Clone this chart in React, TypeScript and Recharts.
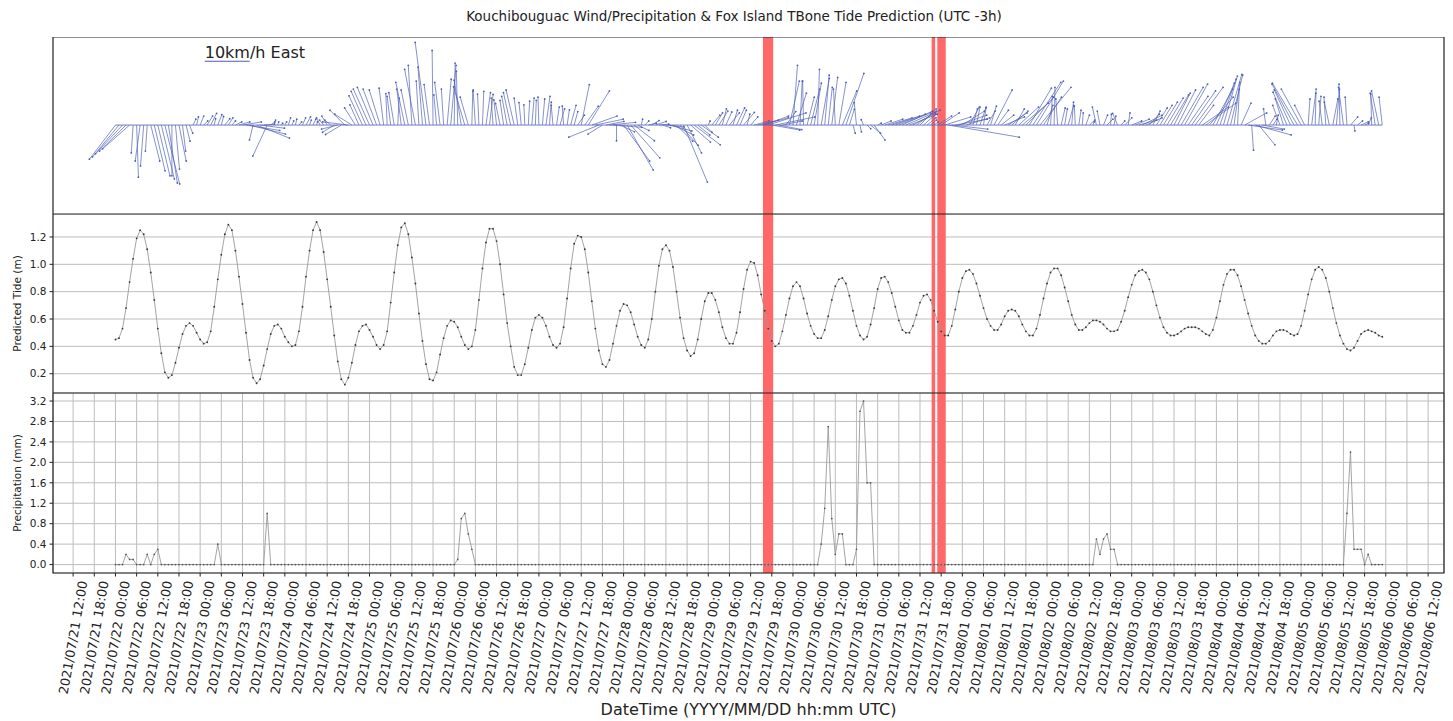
import React from 'react';
import {
  ComposedChart,
  Line,
  Scatter,
  XAxis,
  YAxis,
  CartesianGrid,
  ReferenceArea,
} from 'recharts';

// hour 0 of the time axis is 2021/07/21 12:00 UTC
const START_UTC = Date.UTC(2021, 6, 21, 12);
// first hourly sample is 2021/07/22 00:00 UTC
const FIRST_HOUR = 12;

// Fox Island predicted tide (m), hourly, one row per day (07/22 .. 08/05)
const tideM = [
  0.45, 0.46, 0.53, 0.68, 0.87, 1.04, 1.19, 1.25, 1.22, 1.11, 0.94, 0.74, 0.53, 0.35, 0.21, 0.17, 0.19, 0.28, 0.39, 0.49, 0.55, 0.57, 0.55, 0.5,
  0.45, 0.42, 0.43, 0.51, 0.69, 0.89, 1.07, 1.22, 1.29, 1.25, 1.1, 0.91, 0.71, 0.5, 0.3, 0.17, 0.13, 0.16, 0.26, 0.38, 0.49, 0.55, 0.56, 0.53,
  0.47, 0.43, 0.4, 0.41, 0.51, 0.69, 0.91, 1.1, 1.25, 1.31, 1.25, 1.09, 0.89, 0.69, 0.48, 0.29, 0.16, 0.12, 0.17, 0.28, 0.41, 0.51, 0.55, 0.56,
  0.52, 0.47, 0.41, 0.38, 0.41, 0.51, 0.72, 0.94, 1.14, 1.27, 1.3, 1.22, 1.05, 0.86, 0.64, 0.44, 0.27, 0.16, 0.15, 0.21, 0.34, 0.46, 0.55, 0.59,
  0.58, 0.54, 0.47, 0.41, 0.38, 0.4, 0.52, 0.74, 0.97, 1.16, 1.26, 1.26, 1.17, 1.0, 0.78, 0.57, 0.4, 0.25, 0.19, 0.19, 0.27, 0.39, 0.52, 0.61,
  0.63, 0.61, 0.55, 0.47, 0.41, 0.39, 0.42, 0.54, 0.75, 0.97, 1.15, 1.21, 1.2, 1.11, 0.94, 0.73, 0.53, 0.37, 0.27, 0.25, 0.3, 0.42, 0.55, 0.66,
  0.71, 0.7, 0.65, 0.56, 0.47, 0.41, 0.39, 0.45, 0.6, 0.8, 0.99, 1.11, 1.14, 1.1, 0.98, 0.8, 0.61, 0.46, 0.37, 0.33, 0.35, 0.45, 0.6, 0.73,
  0.79, 0.79, 0.74, 0.65, 0.54, 0.46, 0.42, 0.42, 0.5, 0.65, 0.82, 0.96, 1.02, 1.01, 0.92, 0.78, 0.66, 0.53, 0.44, 0.4, 0.42, 0.51, 0.63, 0.75,
  0.84, 0.87, 0.84, 0.75, 0.64, 0.55, 0.49, 0.46, 0.46, 0.52, 0.62, 0.74, 0.84, 0.89, 0.9, 0.86, 0.77, 0.66, 0.55, 0.48, 0.45, 0.47, 0.56, 0.68,
  0.82, 0.9, 0.91, 0.87, 0.79, 0.69, 0.59, 0.52, 0.5, 0.5, 0.55, 0.63, 0.72, 0.77, 0.78, 0.74, 0.66, 0.58, 0.51, 0.48, 0.48, 0.55, 0.67, 0.8,
  0.9, 0.95, 0.96, 0.93, 0.86, 0.77, 0.68, 0.6, 0.55, 0.52, 0.52, 0.56, 0.62, 0.66, 0.67, 0.66, 0.62, 0.56, 0.51, 0.48, 0.48, 0.53, 0.63, 0.75,
  0.86, 0.94, 0.97, 0.97, 0.92, 0.83, 0.73, 0.63, 0.56, 0.52, 0.52, 0.54, 0.57, 0.59, 0.59, 0.58, 0.56, 0.53, 0.51, 0.51, 0.52, 0.58, 0.66, 0.76,
  0.85, 0.92, 0.95, 0.96, 0.94, 0.89, 0.8, 0.7, 0.61, 0.54, 0.5, 0.48, 0.48, 0.49, 0.51, 0.53, 0.54, 0.54, 0.54, 0.53, 0.51, 0.49, 0.48, 0.52,
  0.61, 0.73, 0.85, 0.93, 0.96, 0.96, 0.92, 0.84, 0.74, 0.64, 0.55, 0.48, 0.44, 0.42, 0.42, 0.44, 0.48, 0.51, 0.52, 0.52, 0.51, 0.49, 0.48, 0.49,
  0.55, 0.66, 0.78, 0.89, 0.96, 0.98, 0.96, 0.9, 0.8, 0.68, 0.57, 0.48, 0.42, 0.38, 0.37, 0.39, 0.44, 0.49, 0.51, 0.52, 0.51, 0.5, 0.48, 0.47,
];

// Kouchibouguac hourly precipitation (mm)
const precipMm = [
  0, 0, 0, 0.2, 0.1, 0.1, 0, 0, 0, 0.2, 0, 0.2, 0.3, 0, 0, 0, 0, 0, 0, 0, 0, 0, 0, 0,
  0, 0, 0, 0, 0, 0.4, 0, 0, 0, 0, 0, 0, 0, 0, 0, 0, 0, 0, 0, 1.0, 0, 0, 0, 0,
  0, 0, 0, 0, 0, 0, 0, 0, 0, 0, 0, 0, 0, 0, 0, 0, 0, 0, 0, 0, 0, 0, 0, 0,
  0, 0, 0, 0, 0, 0, 0, 0, 0, 0, 0, 0, 0, 0, 0, 0, 0, 0, 0, 0, 0, 0, 0, 0,
  0, 0.1, 0.9, 1.0, 0.6, 0.3, 0, 0, 0, 0, 0, 0, 0, 0, 0, 0, 0, 0, 0, 0, 0, 0, 0, 0,
  0, 0, 0, 0, 0, 0, 0, 0, 0, 0, 0, 0, 0, 0, 0, 0, 0, 0, 0, 0, 0, 0, 0, 0,
  0, 0, 0, 0, 0, 0, 0, 0, 0, 0, 0, 0, 0, 0, 0, 0, 0, 0, 0, 0, 0, 0, 0, 0,
  0, 0, 0, 0, 0, 0, 0, 0, 0, 0, 0, 0, 0, 0, 0, 0, 0, 0, 0, 0, 0, 0, 0, 0,
  0, 0, 0, 0, 0, 0, 0, 0, 0.4, 1.1, 2.7, 0.9, 0.2, 0.6, 0.6, 0, 0, 0, 0.3, 3.0, 3.2, 1.6, 1.6, 0,
  0, 0, 0, 0, 0, 0, 0, 0, 0, 0, 0, 0, 0, 0, 0, 0, 0, 0, 0, 0, 0, 0, 0, 0,
  0, 0, 0, 0, 0, 0, 0, 0, 0, 0, 0, 0, 0, 0, 0, 0, 0, 0, 0, 0, 0, 0, 0, 0,
  0, 0, 0, 0, 0, 0, 0, 0, 0, 0, 0, 0, 0, 0, 0.5, 0.2, 0.5, 0.6, 0.3, 0.3, 0, 0, 0, 0,
  0, 0, 0, 0, 0, 0, 0, 0, 0, 0, 0, 0, 0, 0, 0, 0, 0, 0, 0, 0, 0, 0, 0, 0,
  0, 0, 0, 0, 0, 0, 0, 0, 0, 0, 0, 0, 0, 0, 0, 0, 0, 0, 0, 0, 0, 0, 0, 0,
  0, 0, 0, 0, 0, 0, 0, 0, 0, 0, 0, 0, 0, 1.0, 2.2, 0.3, 0.3, 0.3, 0, 0.2, 0, 0, 0, 0,
];

// wind vector, east component (km/h)
const windEastKmh = [
  -5.8, -5.9, -6.0, -5.9, -6.0, -0.4, 0.4, -1.1, -0.7, -0.4, 2.0, 2.4, 2.7, 2.9, 3.3, 2.0, 0.0, 0.9, 1.6, 0.7, 0.9, 0.7, 0.6, 0.4,
  0.8, 0.9, 1.2, 1.3, 0.3, 0.9, 0.5, 1.1, 1.0, 0.8, 1.4, 2.4, 4.2, 7.5, 8.0, -0.8, 7.3, 5.4, 2.4, -3.2, 0.9, 0.3, 0.2, 0.3,
  0.4, 0.5, 0.4, 0.3, 0.6, 0.7, 1.0, 0.4, 0.6, 0.2, -0.8, -0.9, -1.2, -1.3, -2.6, -3.6, -3.5, -3.3, -5.7, -3.8, -2.4, -2.0, -3.0, -3.3,
  -3.6, -3.5, -3.0, -2.4, -1.0, -0.3, -0.8, -1.2, 0.3, -1.0, -2.0, -1.6, -0.8, -2.4, -0.6, -1.0, -2.4, -1.2, -0.2, -0.6, -1.2, -0.5, 0.9, 1.2,
  0.2, -0.3, -1.6, -2.5, -1.8, 0.2, -0.5, -0.3, 0.3, 1.0, 0.8, -0.4, -0.6, -1.0, -0.8, -1.2, -1.6, -1.8, -0.8, -0.5, -0.2, 0.3, 0.5, 0.2,
  -0.2, 0.5, 0.9, 0.4, -0.4, 0.6, 1.0, -0.3, 0.5, 1.2, 0.8, 1.5, 1.8, 3.0, 4.7, 5.6, 6.2, -6.7, -3.2, 4.0, 5.8, 6.4, 0.0, 3.2,
  5.8, 5.8, 6.5, 4.5, 2.5, 0.3, 0.9, 1.8, 1.6, 2.4, 2.2, 1.8, 4.0, 5.0, 4.6, 3.6, 4.0, 5.3, 3.2, 4.4, 5.8, 2.7, 3.8, 1.6,
  0.4, 1.8, 1.6, 2.0, 0.9, 1.3, 2.2, 1.0, 1.8, 1.4, 2.4, 0.6, 1.6, 3.3, 4.6, 6.0, 5.3, 8.4, 6.2, 8.8, 5.1, 4.4, 2.2, 2.2,
  1.0, 2.2, 0.5, -0.2, 1.6, 2.0, 1.6, 0.4, 1.8, 1.0, 0.9, 1.3, -0.4, 1.6, 3.2, 4.0, 1.1, 0.5, -0.5, 0.3, -0.5, 0.8, 2.2, 2.4,
  0.8, 2.2, 4.0, 5.3, 6.2, 6.7, 7.1, 6.7, 7.6, 6.2, 5.1, 4.4, 3.6, 2.7, 2.0, 1.3, 0.9, 3.1, 4.0, 5.8, 15.8, 8.0, 7.1, 6.2,
  4.9, 5.3, 2.2, 1.0, 0.8, 1.3, 0.6, 1.8, 1.3, 4.0, 2.4, 2.8, 4.4, 4.2, 3.6, 2.0, 4.4, 5.8, 6.2, 4.9, 6.2, 6.0, 6.9, 4.0,
  1.3, 0.4, 0.2, -0.4, 0.9, 0.6, 1.2, 0.4, -0.2, 0.5, 0.2, 0.8, 1.2, 0.3, -0.9, -0.6, 0.9, 1.3, 0.2, 0.4, -1.1, 0.8, 1.6, 0.4,
  2.2, 3.1, 4.0, 4.4, 3.6, 2.2, 1.6, 2.4, 2.7, 3.1, 3.6, 4.0, 3.6, 4.0, 4.9, 5.1, 4.4, 5.3, 6.2, 3.3, 5.8, 6.7, 5.3, 4.4,
  4.0, 3.6, 3.1, 3.3, 2.7, 1.3, 0.4, 2.2, 4.9, 7.6, 0.4, 8.0, 3.6, 4.9, -0.5, 1.3, 0.9, 0.4, -1.6, -1.8, -3.1, -3.6, -4.9, -5.6,
  -4.4, -2.2, 0.4, 0.9, 0.2, 0.5, -0.7, -0.4, -1.1, 1.1, 0.7, -0.2, -1.1, -0.4, 1.6, 0.2, 1.1, 1.6, 0.9, 0.7, -0.2, -1.1, -1.6, -0.7,
];

// wind vector, north component (km/h)
const windNorthKmh = [
  -7.6, -7.1, -6.4, -5.8, -5.3, -6.2, -11.6, -8.0, -9.1, -5.8, -8.0, -10.2, -11.3, -12.0, -13.1, -12.9, -11.3, -9.8, -8.0, -5.8, -3.6, -1.8, 1.3, 1.8,
  2.0, 0.9, 2.0, 2.6, 1.4, 2.3, 1.9, 1.4, 1.6, 0.9, 0.7, 0.7, 0.7, -1.2, -2.0, -3.3, -2.9, -0.7, 0.2, -6.9, 0.7, 1.1, 0.7, 0.4,
  0.7, 1.6, 0.9, 1.3, 0.7, 1.6, 1.8, 1.1, 1.3, 0.7, 1.6, 1.1, 2.0, 1.1, -1.6, -0.9, -2.1, 3.3, 0.7, 2.4, 3.8, 4.5, 6.5, 7.5,
  8.0, 8.4, 8.0, 7.8, 8.2, 7.0, 6.4, 7.2, 6.0, 8.0, 9.5, 7.8, 13.3, 12.4, 9.8, 12.9, 18.4, 9.0, 16.6, 6.7, 9.5, 8.0, 10.2, 13.3,
  13.8, 12.0, 10.0, 8.5, 6.2, 7.5, 7.8, 6.9, 7.5, 7.2, 6.8, 6.0, 5.6, 4.8, 5.5, 6.4, 7.2, 7.8, 6.0, 5.0, 4.5, 5.3, 6.0, 5.5,
  6.2, 5.8, 6.4, 5.1, 4.4, 4.0, 3.6, 4.2, 3.4, 4.4, 3.0, 2.2, 9.0, 4.2, 7.6, 2.0, 1.3, -2.7, -2.0, 0.8, 0.6, -0.5, -3.5, -1.5,
  -8.0, -10.0, -7.3, -3.5, -1.2, 1.3, 0.9, 0.4, 1.0, 0.8, 0.2, -0.6, -0.4, -1.3, -2.2, -3.6, -4.5, -12.7, -6.2, -3.8, -4.4, -2.2, -2.7, -1.6,
  0.9, 2.2, 2.7, 3.1, 3.6, 2.9, 2.7, 3.3, 3.8, 3.3, 2.8, 2.4, 1.8, 0.9, 1.1, 1.6, 2.0, 2.7, -1.1, 1.8, -1.0, 0.9, 3.0, 9.8,
  13.3, 7.1, 9.8, 9.8, 6.2, 8.0, 9.3, 12.4, 10.4, 11.1, 8.4, 10.6, 8.0, 9.5, 7.6, 11.5, 3.5, -1.8, 5.0, -1.5, 1.2, -0.8, -1.8, -3.3,
  0.4, 0.9, 1.3, 1.6, 2.0, 2.4, 2.7, 3.1, 3.3, 2.4, 2.7, 3.1, 3.6, 2.4, 1.6, 1.1, 0.7, 2.0, 2.7, 1.8, -2.7, -0.9, 1.3, 2.2,
  3.1, 1.6, 4.0, 3.6, 4.0, 3.8, 4.0, 3.1, 4.2, 7.8, 3.3, 2.2, 1.8, 2.7, 3.1, 3.6, 4.0, 4.9, 6.2, 8.2, 9.5, 9.8, 8.4, 6.2,
  4.4, 6.4, 8.4, 5.8, 3.8, 3.6, 4.4, 5.1, 4.2, 3.3, 2.7, 2.2, 1.1, 0.7, 4.0, 3.1, 2.2, 1.3, 2.4, 2.0, 2.6, 0.9, 1.6, 2.7,
  0.9, 1.3, 1.1, 2.2, 1.6, 2.4, 3.1, 3.8, 4.4, 5.1, 6.0, 6.7, 7.1, 7.8, 8.4, 9.1, 6.4, 7.6, 8.4, 4.4, 4.0, 4.9, 6.2, 8.0,
  9.3, 10.2, 10.9, 11.3, 11.1, 9.5, 8.0, 4.9, 2.7, -1.1, -5.6, -2.2, -4.4, -0.9, 3.6, 2.0, 1.3, 2.2, 4.4, 5.8, 7.3, 7.8, 9.1, 9.3,
  8.0, 4.4, 5.8, 7.1, 8.0, 6.4, 5.3, 6.2, 5.1, 5.8, 8.0, 9.1, 8.4, 6.2, 1.8, -1.3, 0.9, 0.7, 0.4, 1.6, 6.9, 7.1, 7.6, 6.2,
];

// data gaps shaded red (hours on the time axis)
const gapStart = [195.5, 243.3, 244.9];
const gapEnd = [198.4, 244.3, 247.3];

const tickHours = Array.from({ length: 65 }, (_, i) => i * 6);
const tideTicks = [0.2, 0.4, 0.6, 0.8, 1.0, 1.2];
const precipTicks = [0, 0.4, 0.8, 1.2, 1.6, 2.0, 2.4, 2.8, 3.2];

const rows = tideM.map((tide, i) => ({
  hour: FIRST_HOUR + i,
  tide,
  precip: precipMm[i],
  u: windEastKmh[i],
  v: windNorthKmh[i],
  zero: 0,
}));

const W = 1453;
const X_DOMAIN: [number, number] = [-5.7, 388.5];
const WIND_DOMAIN: [number, number] = [-19.8, 19.6];
const TIDE_DOMAIN: [number, number] = [0.059, 1.368];
const PRECIP_DOMAIN: [number, number] = [-0.165, 3.357];
const WIND_H = 177;
// quiver scale: pixels per km/h (same as the vertical axis)
const KMH_PX = WIND_H / (WIND_DOMAIN[1] - WIND_DOMAIN[0]);
const KEY_HOUR = 37.3;
const KEY_KMH = 14.2;

const FONT = '"DejaVu Sans", sans-serif';
const WIND = '#4c5db5';
const INK = '#222';
const GRID = '#bdbdbd';
const GAP = '#ff6868';
const SERIES = '#9a9a9a';
const DOT = '#3a3a3a';

const pad = (n: number) => String(n).padStart(2, '0');
const fmtHour = (h: number) => {
  const d = new Date(START_UTC + h * 3600 * 1000);
  return `${d.getUTCFullYear()}/${pad(d.getUTCMonth() + 1)}/${pad(d.getUTCDate())} ${pad(d.getUTCHours())}:${pad(d.getUTCMinutes())}`;
};

const WindArrow = (props: any) => {
  const { cx, cy, payload } = props;
  if (cx == null || cy == null) return null;
  const x2 = cx + payload.u * KMH_PX;
  const y2 = cy - payload.v * KMH_PX;
  return (
    <g>
      <line x1={cx} y1={cy} x2={x2} y2={y2} stroke={WIND} strokeWidth={0.8} strokeOpacity={0.85} />
      <circle cx={x2} cy={y2} r={0.9} fill={WIND} />
    </g>
  );
};

const WindKey = (props: any) => {
  const { cx, cy } = props;
  if (cx == null || cy == null) return null;
  return (
    <g>
      <line x1={cx} y1={cy} x2={cx + 10 * KMH_PX} y2={cy} stroke={WIND} strokeWidth={1} />
      <text x={cx} y={cy - 3.5} fontSize={16} fontFamily={FONT} fill={INK}>
        10km/h East
      </text>
    </g>
  );
};

const DateTick = (props: any) => {
  const { x, y, payload } = props;
  return (
    <text
      transform={`translate(${x + 10},${y + 1}) rotate(-80)`}
      textAnchor="end"
      dy="0.35em"
      fontSize={12.8}
      fontFamily={FONT}
      fill={INK}
    >
      {fmtHour(payload.value)}
    </text>
  );
};

const yTitle = (text: string) => (p: any) => {
  const vb = p.viewBox;
  const cx = vb.x + 17.5;
  const cy = vb.y + vb.height / 2;
  return (
    <text
      transform={`translate(${cx},${cy}) rotate(-90)`}
      textAnchor="middle"
      dy="0.35em"
      fontSize={10.5}
      fontFamily={FONT}
      fill={INK}
    >
      {text}
    </text>
  );
};

const xTitle = (p: any) => {
  const vb = p.viewBox;
  return (
    <text
      x={vb.x + vb.width / 2}
      y={vb.y + 136}
      dy="0.35em"
      textAnchor="middle"
      fontSize={16}
      fontFamily={FONT}
      fill={INK}
    >
      DateTime (YYYY/MM/DD hh:mm UTC)
    </text>
  );
};

const gapAreas = (domain: [number, number]) =>
  gapStart.map((s, i) => (
    <ReferenceArea
      key={`gap-${i}`}
      x1={s}
      x2={gapEnd[i]}
      y1={domain[0]}
      y2={domain[1]}
      fill={GAP}
      fillOpacity={1}
      stroke="none"
      ifOverflow="visible"
    />
  ));

const frame = (domain: [number, number]) => (
  <ReferenceArea
    x1={X_DOMAIN[0]}
    x2={X_DOMAIN[1]}
    y1={domain[0]}
    y2={domain[1]}
    fill="none"
    stroke={INK}
    strokeWidth={1.2}
    ifOverflow="visible"
  />
);

const yAxisStyle = {
  width: 53,
  tickSize: 3.5,
  tickMargin: 3,
  axisLine: false,
  tickLine: { stroke: INK },
  tick: { fontSize: 10.5, fill: INK, fontFamily: FONT },
  tickFormatter: (v: number) => v.toFixed(1),
  allowDataOverflow: true,
  interval: 0 as const,
};

export default function App() {
  return (
    <div style={{ position: 'absolute', left: 0, top: 0, width: W, height: 721, background: '#fff', fontFamily: FONT }}>
      <div
        style={{
          position: 'absolute',
          left: 734,
          top: 8,
          transform: 'translateX(-50%)',
          whiteSpace: 'nowrap',
          fontSize: 13.5,
          lineHeight: '16px',
          color: INK,
        }}
      >
        Kouchibouguac Wind/Precipitation &amp; Fox Island TBone Tide Prediction (UTC -3h)
      </div>

      {/* wind vectors */}
      <div style={{ position: 'absolute', left: 0, top: 37 }}>
        <ComposedChart width={W} height={WIND_H} data={rows} margin={{ top: 0, right: 9, left: 53, bottom: 0 }}>
          <XAxis type="number" dataKey="hour" domain={X_DOMAIN} allowDataOverflow hide />
          <YAxis type="number" domain={WIND_DOMAIN} allowDataOverflow hide />
          <Line dataKey="zero" stroke={WIND} strokeWidth={0.8} dot={false} isAnimationActive={false} />
          <Scatter dataKey="zero" shape={WindArrow} isAnimationActive={false} />
          <Scatter data={[{ hour: KEY_HOUR, zero: KEY_KMH }]} dataKey="zero" shape={WindKey} isAnimationActive={false} />
          {gapAreas(WIND_DOMAIN)}
          {frame(WIND_DOMAIN)}
        </ComposedChart>
      </div>

      {/* predicted tide */}
      <div style={{ position: 'absolute', left: 0, top: 214 }}>
        <ComposedChart width={W} height={179} data={rows} margin={{ top: 0, right: 9, left: 0, bottom: 0 }}>
          <CartesianGrid vertical={false} stroke={GRID} />
          <XAxis type="number" dataKey="hour" domain={X_DOMAIN} allowDataOverflow hide />
          <YAxis
            type="number"
            domain={TIDE_DOMAIN}
            ticks={tideTicks}
            {...yAxisStyle}
            label={yTitle('Predicted Tide (m)')}
          />
          <Line
            dataKey="tide"
            stroke={SERIES}
            strokeWidth={0.9}
            dot={{ r: 0.95, fill: DOT, stroke: 'none' }}
            isAnimationActive={false}
          />
          {gapAreas(TIDE_DOMAIN)}
          {frame(TIDE_DOMAIN)}
        </ComposedChart>
      </div>

      {/* precipitation */}
      <div style={{ position: 'absolute', left: 0, top: 393 }}>
        <ComposedChart width={W} height={328} data={rows} margin={{ top: 0, right: 9, left: 0, bottom: 0 }}>
          <CartesianGrid stroke={GRID} />
          <XAxis
            type="number"
            dataKey="hour"
            domain={X_DOMAIN}
            ticks={tickHours}
            interval={0}
            allowDataOverflow
            height={148}
            tickSize={3.5}
            tickMargin={3.5}
            axisLine={false}
            tickLine={{ stroke: INK }}
            tick={DateTick}
            label={xTitle}
          />
          <YAxis
            type="number"
            domain={PRECIP_DOMAIN}
            ticks={precipTicks}
            {...yAxisStyle}
            label={yTitle('Precipitation (mm)')}
          />
          <Line
            dataKey="precip"
            stroke={SERIES}
            strokeWidth={0.9}
            dot={{ r: 0.85, fill: '#555', stroke: 'none' }}
            isAnimationActive={false}
          />
          {gapAreas(PRECIP_DOMAIN)}
          {frame(PRECIP_DOMAIN)}
        </ComposedChart>
      </div>
    </div>
  );
}
